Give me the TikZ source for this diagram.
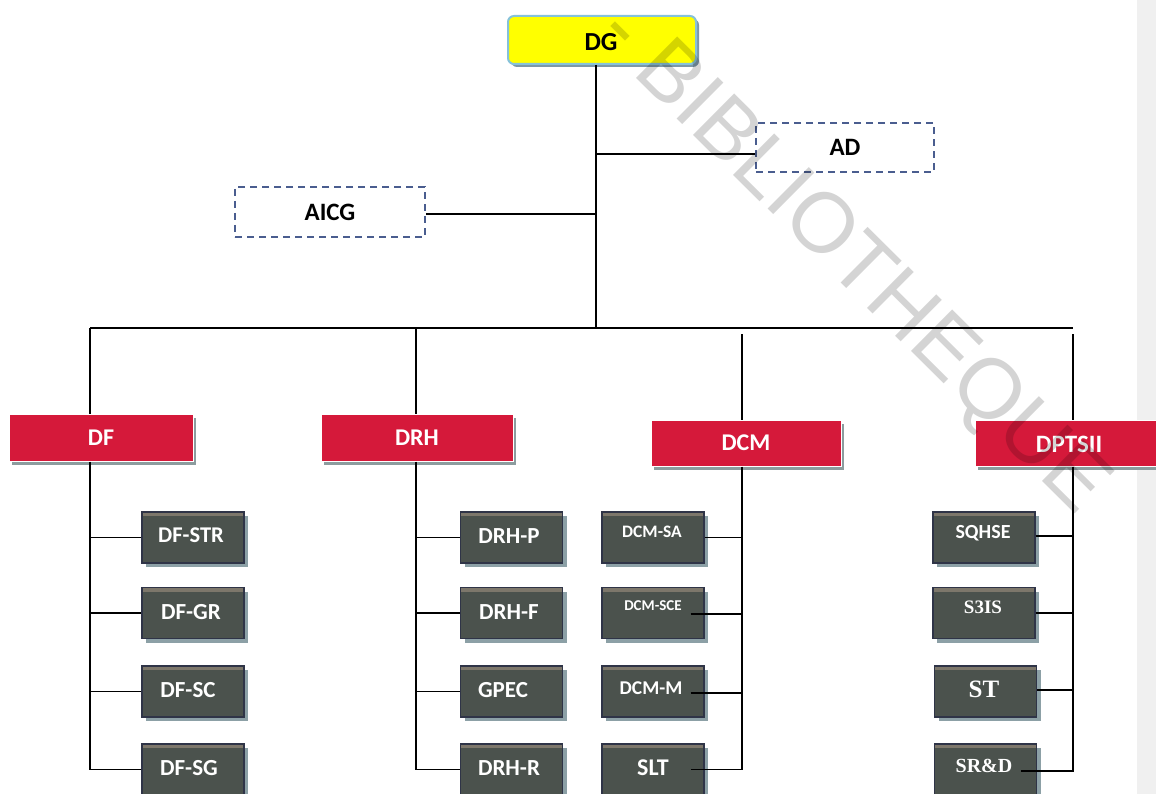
\documentclass[tikz,border=0pt]{standalone}
\usepackage{fontspec}
\setmainfont{Carlito}
\newfontfamily\tnr{Liberation Serif}
\newfontfamily\wmf{Liberation Sans}
\usetikzlibrary{shadows}
\definecolor{redbox}{HTML}{D5193A}
\definecolor{redshadow}{HTML}{8C9C9E}
\definecolor{dboxfill}{HTML}{4B524D}
\definecolor{dboxline}{HTML}{2F3447}
\definecolor{dstripe}{HTML}{7D776B}
\definecolor{dshadow}{HTML}{8CA0A6}
\definecolor{dgyellow}{HTML}{FFFF00}
\definecolor{dgline}{HTML}{86C2DA}
\definecolor{dgshadow}{HTML}{7D98A8}
\definecolor{dashcol}{HTML}{4A5D8F}
\definecolor{pagegray}{HTML}{F0F0F0}
\newcommand\fsz[1]{\fontsize{#1}{#1}\selectfont}
\tikzset{
  conn/.style={draw=black, line width=1.7pt},
  dgbox/.style={draw=dgline, line width=2pt, fill=dgyellow, rounded corners=6pt,
    minimum width=188pt, minimum height=48pt, inner sep=0pt,
    drop shadow={shadow xshift=3pt, shadow yshift=-3pt, fill=dgshadow, opacity=1}},
  dashbox/.style={draw=dashcol, line width=2pt, dash pattern=on 7pt off 5pt, fill=white,
    inner sep=0pt, font=\bfseries\fsz{25}},
  redhead/.style={draw=white, line width=1pt, fill=redbox, text=white, inner sep=0pt,
    minimum height=47pt, font=\bfseries\fsz{24},
    drop shadow={shadow xshift=3pt, shadow yshift=-4pt, fill=redshadow, opacity=1}},
  dbox/.style={draw=dboxline, line width=1.2pt, fill=dboxfill, minimum width=102pt,
    minimum height=51pt, inner sep=0pt,
    path picture={\fill[dstripe] ([yshift=-0.6pt]path picture bounding box.north west)
       rectangle ([yshift=-4pt]path picture bounding box.north east);},
    drop shadow={shadow xshift=4pt, shadow yshift=-4pt, fill=dshadow, opacity=1}},
  dtxt/.style={text=white, inner sep=0pt, font=\bfseries},
  wm/.style={text=black, text opacity=0.17, inner sep=0pt, font=\wmf\fsz{85}},
}
\begin{document}
\begin{tikzpicture}[x=1pt,y=-1pt]
\useasboundingbox (0,0) rectangle (1156,794);
\clip (0,0) rectangle (1156,794);
\fill[pagegray] (1137,0) rectangle (1156,794);

% coordinates of the trunk and bus
\coordinate (trunk) at (596,328);
\coordinate (cDF) at (90,328);
\coordinate (cDRH) at (416,328);
\coordinate (cDCM) at (742,334);
\coordinate (cDPT) at (1073,334);
\coordinate (busR) at (1073,328);

% top level
\node[dgbox] (dg) at (602,40) {};
\node[inner sep=0pt, font=\bfseries\fsz{26}] (dgt) at (601,42) {DG};
\node[dashbox, minimum width=178pt, minimum height=49pt] (ad) at (845,147.5) {AD};
\node[dashbox, minimum width=190pt, minimum height=50pt] (aicg) at (330,212) {AICG};

\draw[conn] (dg.south -| trunk) -- (trunk);
\draw[conn] ([yshift=-6.5pt]ad.west -| trunk) -- ([yshift=-6.5pt]ad.west);
\draw[conn] ([yshift=-2pt]aicg.east -| trunk) -- ([yshift=-2pt]aicg.east);
\draw[conn] (cDF) -- (busR);

% department heads
\node[redhead, minimum width=184pt] (df) at (101,437.5) {DF};
\node[redhead, minimum width=192pt] (drh) at (417,437.5) {DRH};
\node[redhead, minimum width=190pt, minimum height=46pt] (dcm) at (746,443) {DCM};
\node[redhead, minimum width=190pt, minimum height=46pt] (dpt) at (1070,443) {};
\node[dtxt, font=\bfseries\fsz{25}] (dptt) at (1069,444) {DPTSII};

\draw[conn] (cDF) -- (cDF |- df.north);
\draw[conn] (cDRH) -- (cDRH |- drh.north);
\draw[conn] (cDCM) -- (cDCM |- dcm.north);
\draw[conn] (cDPT) -- (cDPT |- dpt.north);

% DF column
\node[dbox] (dfstr) at (193,537.5) {};
\node[dbox] (dfgr) at (193,613) {};
\node[dbox] (dfsc) at (193,691.5) {};
\node[dbox] (dfsg) at (193,769.5) {};
\node[dtxt, font=\bfseries\fsz{22.5}] (dfstrt) at (191,535) {DF-STR};
\node[dtxt, font=\bfseries\fsz{23}] (dfgrt) at (191,612) {DF-GR};
\node[dtxt, font=\bfseries\fsz{23}] (dfsct) at (188,690) {DF-SC};
\node[dtxt, font=\bfseries\fsz{23}] (dfsgt) at (189,768) {DF-SG};
\draw[conn] (cDF |- df.south) |- (dfsg.west);
\draw[conn] (cDF |- dfstr.west) -- (dfstr.west);
\draw[conn] (cDF |- dfgr.west) -- (dfgr.west);
\draw[conn] (cDF |- dfsc.west) -- (dfsc.west);

% DRH column
\node[dbox] (drhp) at (511.5,537.5) {};
\node[dbox] (drhf) at (511.5,613) {};
\node[dbox] (gpec) at (511.5,691.5) {};
\node[dbox] (drhr) at (511.5,769.5) {};
\node[dtxt, font=\bfseries\fsz{23}] (drhpt) at (509,536) {DRH-P};
\node[dtxt, font=\bfseries\fsz{23}] (drhft) at (509,612) {DRH-F};
\node[dtxt, font=\bfseries\fsz{23}] (gpect) at (503,690) {GPEC};
\node[dtxt, font=\bfseries\fsz{23}] (drhrt) at (509,768) {DRH-R};
\draw[conn] (cDRH |- drh.south) |- (drhr.west);
\draw[conn] (cDRH |- drhp.west) -- (drhp.west);
\draw[conn] (cDRH |- drhf.west) -- (drhf.west);
\draw[conn] (cDRH |- gpec.west) -- (gpec.west);

% DCM column
\node[dbox] (dcmsa) at (653,537.5) {};
\node[dbox] (dcmsce) at (653,613) {};
\node[dbox] (dcmm) at (653,691.5) {};
\node[dbox] (slt) at (653,769.5) {};
\node[dtxt, font=\bfseries\fsz{17.5}] (dcmsat) at (652,532) {DCM-SA};
\node[dtxt, font=\bfseries\fsz{15}] (dcmscet) at (653,606) {DCM-SCE};
\node[dtxt, font=\bfseries\fsz{19.5}] (dcmmt) at (651,688) {DCM-M};
\node[dtxt, font=\bfseries\fsz{24}] (sltt) at (653,768) {SLT};
\draw[conn] (cDCM |- dcm.south) |- ([xshift=-14pt]slt.east);
\draw[conn] (dcmsa.east) -- (cDCM |- dcmsa.east);
\draw[conn] ([xshift=-14pt,yshift=-1pt]dcmsce.east) -- ([yshift=-1pt]cDCM |- dcmsce.east);
\draw[conn] ([xshift=-14pt,yshift=-1.5pt]dcmm.east) -- ([yshift=-1.5pt]cDCM |- dcmm.east);

% DPTSII column
\node[dbox] (sqhse) at (984,537.5) {};
\node[dbox] (s3is) at (984,613) {};
\node[dbox] (st) at (985.5,691.5) {};
\node[dbox] (srd) at (985.5,769.5) {};
\node[dtxt, font=\bfseries\fsz{20}] (sqhset) at (983,533) {SQHSE};
\node[dtxt, font=\tnr\bfseries\fsz{19}] (s3ist) at (983,607) {S3IS};
\node[dtxt, font=\tnr\bfseries\fsz{25}] (stt) at (984,689) {ST};
\node[dtxt, font=\tnr\bfseries\fsz{20}] (srdt) at (984,766) {SR\&D};
\draw[conn] (cDPT |- dpt.south) |- ([xshift=-16pt,yshift=-1.5pt]srd.east);
\draw[conn] ([yshift=1.5pt]sqhse.east) -- ([yshift=1.5pt]cDPT |- sqhse.east);
\draw[conn] (s3is.east) -- (cDPT |- s3is.east);
\draw[conn] ([yshift=1.5pt]st.east) -- ([yshift=1.5pt]cDPT |- st.east);

% watermark
\node[wm, rotate=-44.8, anchor=base] (wmk) at (836,277) {- BIBLIOTHEQUE};
\end{tikzpicture}
\end{document}
